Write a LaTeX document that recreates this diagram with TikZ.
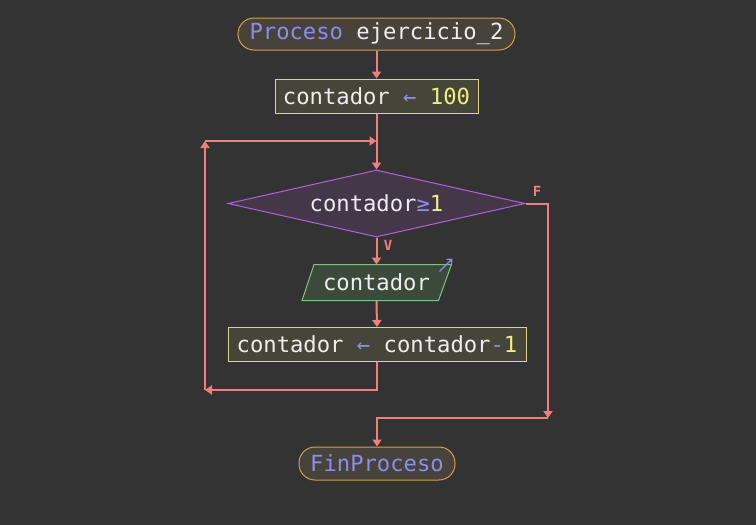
\documentclass[tikz,border=0pt]{standalone}
\usepackage{fontspec}
\setmonofont{DejaVu Sans Mono}
\usetikzlibrary{arrows.meta,shapes.geometric,calc}
\definecolor{bg}{HTML}{333333}
\definecolor{flow}{HTML}{F08080}
\definecolor{kw}{HTML}{8C8CEE}
\definecolor{num}{HTML}{F0F080}
\definecolor{txt}{HTML}{EEEEEE}
\definecolor{termfill}{HTML}{47433A}
\definecolor{termdraw}{HTML}{D0A050}
\definecolor{asgfill}{HTML}{46453A}
\definecolor{asgdraw}{HTML}{D8D880}
\definecolor{condfill}{HTML}{443748}
\definecolor{conddraw}{HTML}{B060E0}
\definecolor{outfill}{HTML}{3C4A3C}
\definecolor{outdraw}{HTML}{80C080}
\tikzset{
  x=1pt, y=-1pt,
  base/.style={font=\ttfamily\fontsize{22.2}{26}\selectfont, text=txt, inner sep=0pt, line width=1pt},
  term/.style={base, draw=termdraw, fill=termfill, rounded corners=16pt, minimum height=32pt},
  asg/.style={base, draw=asgdraw, fill=asgfill, minimum height=34pt},
  cond/.style={base, diamond, draw=conddraw, fill=condfill, shape aspect=4.43, minimum width=297pt, minimum height=67pt},
  outbox/.style={base, minimum width=128pt, minimum height=35pt},
  flowline/.style={draw=flow, line width=2pt},
  flowarrow/.style={flowline, -{Triangle[length=7pt,width=9pt]}},
  lbl/.style={font=\ttfamily\bfseries\fontsize{14}{16}\selectfont, text=flow, inner sep=0pt}
}
\begin{document}
\begin{tikzpicture}
\fill[bg] (0,0) rectangle (756,525);
\useasboundingbox (0,0) rectangle (756,525);

\node[term, minimum width=277pt] (start) at (376.5,34) {\textcolor{kw}{Proceso} ejercicio\_2};
\node[asg, minimum width=203pt] (a1) at (376.5,96) {contador \textcolor{kw}{←} \textcolor{num}{100}};
\node[cond] (c) at (376.5,203.5) {contador\textcolor{kw}{≥}\textcolor{num}{1}};
\node[outbox] (o) at (376.5,282.5) {contador};
\node[asg, minimum width=298pt] (a2) at (377,344.5) {contador \textcolor{kw}{←} contador\textcolor{kw}{-}\textcolor{num}{1}};
\node[term, minimum width=156pt, minimum height=33pt] (fin) at (377,463.5) {\textcolor{kw}{FinProceso}};

% output parallelogram
\draw[draw=outdraw, fill=outfill, line width=1pt]
  ($(o.north)+(-62.5,0)$) coordinate (otl) -- ($(o.north)+(75,0)$) coordinate (otr)
  -- ($(o.south)+(62,0)$) -- ($(o.south)+(-74.5,0)$) -- cycle;
\node[outbox] at (o) {contador};
\draw[kw, line width=1.3pt, -{Straight Barb[length=4pt,width=7pt]}] ($(otr)+(-12,7)$) coordinate (ga) -- ($(otr)+(1,-6)$) coordinate (gb);

% coordinates
\coordinate (m) at (376.5,141);
\coordinate (lt) at (205,141);
\coordinate (lb) at (205,390);
\coordinate (fr) at (548,418);

% connectors
\draw[flowarrow] (start) -- (a1);
\draw[flowarrow] (a1.south) -- (c.north);
\draw[flowarrow] (c.south) -- (o.north);
\draw[flowarrow] (o.south) -- (a2.north);
\draw[flowarrow] (a2.south) |- (lb);
\draw[flowarrow] (lb) -- (lt);
\draw[flowarrow] (lt) -- (m);
\draw[flowarrow] (c.east) -| (fr);
\draw[flowarrow] (fr) -| (fin.north);

\node[lbl] (lf) at (537,191) {F};
\node[lbl] (lv) at (388,245) {V};
\end{tikzpicture}
\end{document}
